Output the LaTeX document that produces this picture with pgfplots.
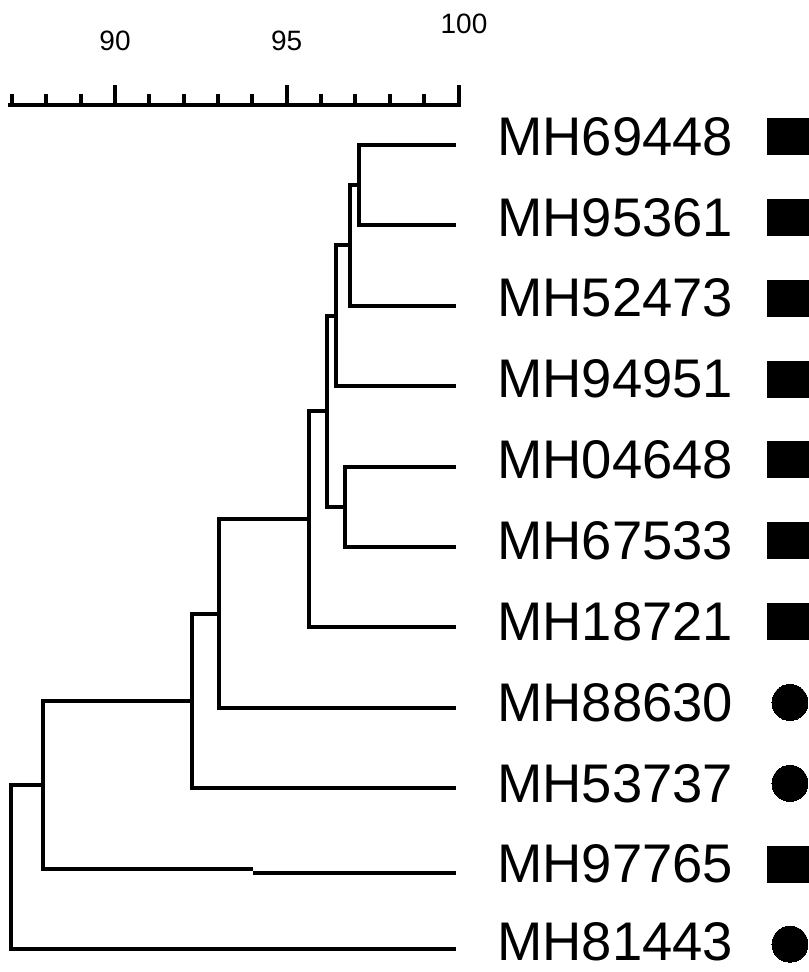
\documentclass[border=0pt]{standalone}
\usepackage{pgfplots}
\pgfplotsset{compat=1.18}
\usepackage{pgfplotstable}
\usepackage{fontspec}
\setmainfont{Liberation Sans}

% leaf labels: x position (left edge), row position, name
\pgfplotstableread{
x y label
101.12 0.894 MH69448
101.12 1.900 MH95361
101.12 2.905 MH52473
101.12 3.911 MH94951
101.12 4.916 MH04648
101.12 5.922 MH67533
101.12 6.928 MH18721
101.12 7.933 MH88630
101.12 8.939 MH53737
101.12 9.944 MH97765
101.12 10.915 MH81443
}\leaves

% group markers
\pgfplotstableread{
x y
109.60 0.894
109.60 1.900
109.60 2.905
109.60 3.911
109.60 4.916
109.60 5.922
109.60 6.928
109.60 9.944
}\squares
\pgfplotstableread{
x y
109.65 7.933
109.65 8.939
109.65 10.940
}\circles

\begin{document}
\begin{tikzpicture}
\begin{axis}[
  scale only axis,
  width=404pt, height=486pt,
  xmin=86.652, xmax=110.175,
  ymin=-0.8035, ymax=11.286,
  y dir=reverse,
  hide axis,
  clip=false,
  tree/.style={black, line width=2pt, mark=none, line join=miter, line cap=butt},
]
% ---- scale bar ----
\addplot[tree] coordinates {(86.88,0.5) (100.06,0.5)};
\addplot[tree, unbounded coords=jump] coordinates {
 (87,0.5) (87,0.366) (87,nan)
 (88,0.5) (88,0.366) (88,nan)
 (89,0.5) (89,0.366) (89,nan)
 (91,0.5) (91,0.366) (91,nan)
 (92,0.5) (92,0.366) (92,nan)
 (93,0.5) (93,0.366) (93,nan)
 (94,0.5) (94,0.366) (94,nan)
 (96,0.5) (96,0.366) (96,nan)
 (97,0.5) (97,0.366) (97,nan)
 (98,0.5) (98,0.366) (98,nan)
 (99,0.5) (99,0.366)
};
\addplot[tree, unbounded coords=jump] coordinates {
 (90,0.5) (90,0.254) (90,nan)
 (95,0.5) (95,0.254) (95,nan)
 (100,0.5) (100,0.254)
};
\node[font=\fontsize{14}{16}\selectfont, inner sep=0pt] at (axis cs:90,-0.294) {90};
\node[font=\fontsize{14}{16}\selectfont, inner sep=0pt] at (axis cs:95,-0.294) {95};
\node[font=\fontsize{14}{16}\selectfont, inner sep=0pt] at (axis cs:100.16,-0.511) {100};

% ---- dendrogram ----
\addplot[tree] coordinates {(99.93,1) (97.10,1) (97.10,2) (99.93,2)};
\addplot[tree] coordinates {(97.10,1.5) (96.84,1.5) (96.84,3) (99.93,3)};
\addplot[tree] coordinates {(96.84,2.25) (96.44,2.25) (96.44,4) (99.93,4)};
\addplot[tree] coordinates {(99.93,5) (96.70,5) (96.70,6) (99.93,6)};
\addplot[tree] coordinates {(96.44,3.125) (96.18,3.125) (96.18,5.5) (96.70,5.5)};
\addplot[tree] coordinates {(96.18,4.3125) (95.65,4.3125) (95.65,7) (99.93,7)};
\addplot[tree] coordinates {(95.65,5.656) (93.03,5.656) (93.03,8) (99.93,8)};
\addplot[tree] coordinates {(93.03,6.828) (92.23,6.828) (92.23,9) (99.93,9)};
\addplot[tree] coordinates {(92.23,7.914) (87.91,7.914) (87.91,10) (94.02,10)};
\addplot[tree] coordinates {(94.02,10.055) (99.93,10.055)};
\addplot[tree] coordinates {(87.91,8.957) (86.97,8.957) (86.97,11) (99.93,11)};

% ---- leaf labels ----
\addplot[only marks, mark=none, nodes near coords, point meta=explicit symbolic,
  nodes near coords style={anchor=west, inner sep=0pt, black,
    font=\fontsize{27.2}{30}\selectfont}]
  table[x=x, y=y, meta=label] {\leaves};

% ---- markers ----
\addplot[only marks, mark=square*, mark size=9pt,
  mark options={xscale=1.167, fill=black, draw=black, line width=0pt}]
  table[x=x, y=y] {\squares};
\addplot[only marks, mark=*, mark size=9pt,
  mark options={fill=black, draw=black, line width=0pt}]
  table[x=x, y=y] {\circles};

\coordinate (sw) at (rel axis cs:0,0);
\coordinate (ne) at (rel axis cs:1,1);
\end{axis}
\pgfresetboundingbox
\useasboundingbox (sw) rectangle (ne);
\end{tikzpicture}
\end{document}
